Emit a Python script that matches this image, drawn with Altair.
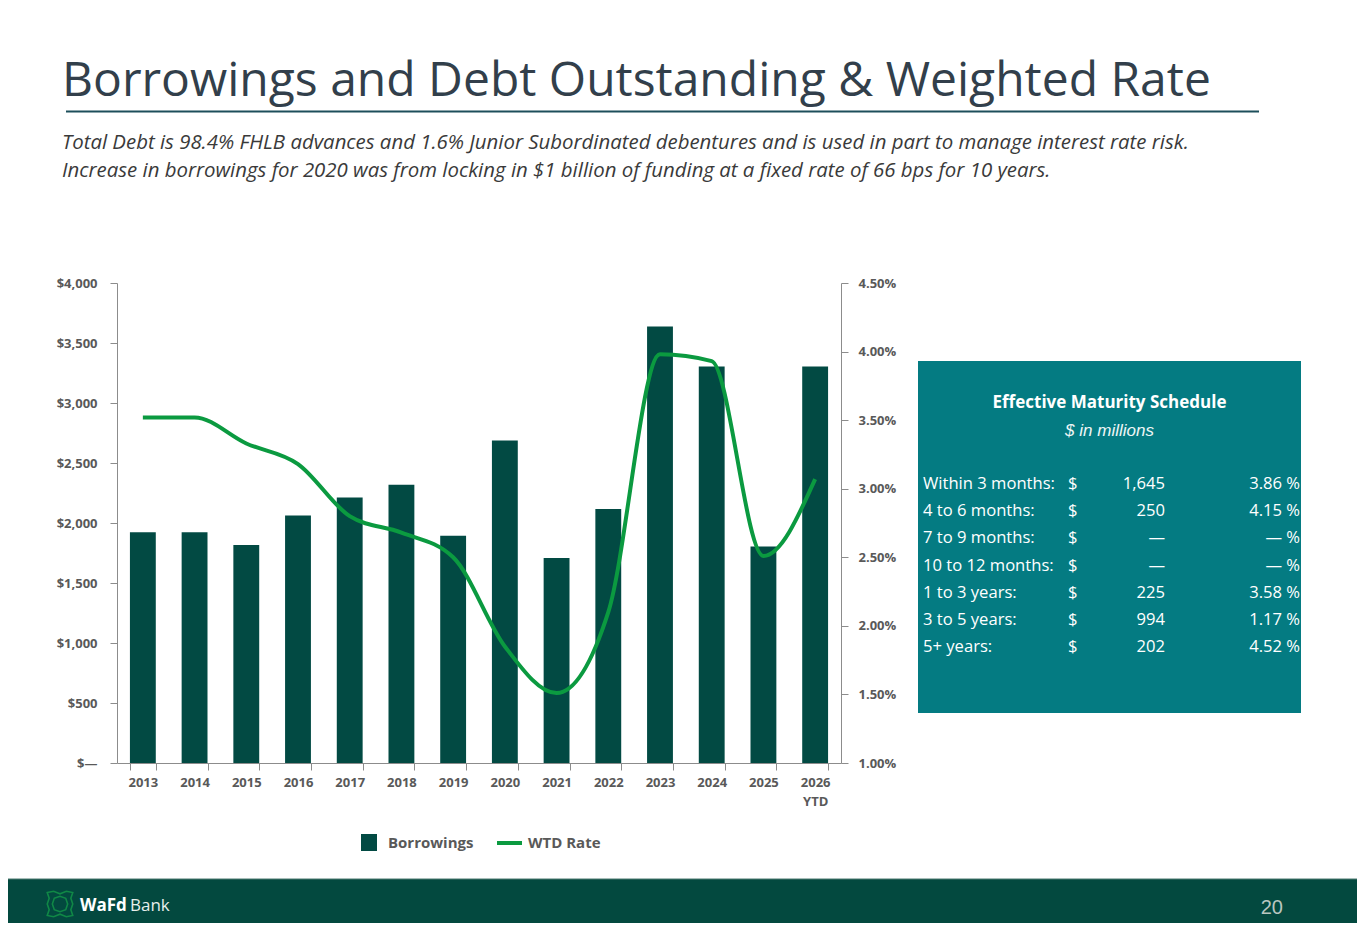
import altair as alt
import pandas as pd

# ---------------- data ----------------
years = ["2013", "2014", "2015", "2016", "2017", "2018", "2019",
         "2020", "2021", "2022", "2023", "2024", "2025", "2026 YTD"]
borrowings = [1922, 1922, 1817, 2063, 2213, 2319, 1894,
              2688, 1708, 2117, 3638, 3305, 1805, 3305]
wtd_rate = [3.52, 3.52, 3.33, 3.18, 2.80, 2.68, 2.50,
            1.85, 1.51, 2.10, 3.98, 3.93, 2.51, 3.07]

left_ticks = [0, 500, 1000, 1500, 2000, 2500, 3000, 3500, 4000]
right_ticks = [1.0, 1.5, 2.0, 2.5, 3.0, 3.5, 4.0, 4.5]

maturity_labels = ["Within 3 months:", "4 to 6 months:", "7 to 9 months:",
                   "10 to 12 months:", "1 to 3 years:", "3 to 5 years:", "5+ years:"]
maturity_amounts = ["1,645", "250", "\u2014", "\u2014", "225", "994", "202"]
maturity_rates = ["3.86 %", "4.15 %", "\u2014 %", "\u2014 %", "3.58 %", "1.17 %", "4.52 %"]

title_text = "Borrowings and Debt Outstanding & Weighted Rate"
subtitle_lines = [
    "Total Debt is 98.4% FHLB advances and 1.6% Junior Subordinated debentures and is used in part to manage interest rate risk.",
    "Increase in borrowings for 2020 was from locking in $1 billion of funding at a fixed rate of 66 bps for 10 years.",
]
legend_items = ["Borrowings", "WTD Rate"]

df = pd.DataFrame({"year": years, "borrowings": borrowings, "rate": wtd_rate})

# ---------------- layout helpers (page px -> plot px) ----------------
OX, OY = 117, 283
W, H = 724, 480
TOTAL_W, TOTAL_H = 1349, 915


def X(p):
    return p - OX


def Y(p):
    return p - OY


def one():
    return pd.DataFrame({"k": [0]})


def txt(s, x, y, size, color, weight="normal", style="normal",
        font="Open Sans", align="left"):
    return alt.Chart(pd.DataFrame({"t": [s]})).mark_text(
        font=font, fontSize=size, fontWeight=weight, fontStyle=style,
        color=color, align=align, baseline="alphabetic"
    ).encode(text="t:N", x=alt.value(X(x)), y=alt.value(Y(y)))


def rect(x1, y1, x2, y2, color):
    return alt.Chart(one()).mark_rect(color=color).encode(
        x=alt.value(X(x1)), x2=alt.value(X(x2)),
        y=alt.value(Y(y1)), y2=alt.value(Y(y2)))


def hrule(x1, x2, y, color, width):
    return alt.Chart(one()).mark_rule(color=color, strokeWidth=width).encode(
        x=alt.value(X(x1)), x2=alt.value(X(x2)), y=alt.value(Y(y)))


AXIS_GRAY = "#8c8c8c"
LABEL_GRAY = "#595959"
BAR_COLOR = "#024a43"
LINE_COLOR = "#0b9a40"

axis_common = dict(
    title=None, grid=False, domainColor=AXIS_GRAY, tickColor=AXIS_GRAY,
    labelFont="Open Sans", labelFontSize=13, labelFontWeight="bold",
    labelColor=LABEL_GRAY, tickSize=7,
)

xenc = alt.X(
    "year:N", sort=years,
    scale=alt.Scale(paddingInner=0.5, paddingOuter=0.25),
    axis=alt.Axis(labelAngle=0, tickBand="extent", labelPadding=6,
                  labelLineHeight=19,
                  labelExpr="datum.value == '2026 YTD' ? ['2026', 'YTD'] : datum.value",
                  **axis_common),
)

bars = alt.Chart(df).mark_bar(color=BAR_COLOR).encode(
    x=xenc,
    y=alt.Y("borrowings:Q",
            scale=alt.Scale(domain=[0, 4000], nice=False),
            axis=alt.Axis(orient="left", values=left_ticks, labelPadding=13,
                          labelExpr="datum.value == 0 ? '$\u2014' : '$' + format(datum.value, ',')",
                          **axis_common)),
)

line = alt.Chart(df).mark_line(color=LINE_COLOR, strokeWidth=4,
                               interpolate="monotone").encode(
    x=xenc,
    y=alt.Y("rate:Q",
            scale=alt.Scale(domain=[1, 4.5], nice=False, zero=False),
            axis=alt.Axis(orient="right", values=right_ticks, labelPadding=10,
                          labelExpr="format(datum.value, '.2f') + '%'",
                          **axis_common)),
)

main = alt.layer(bars, line).resolve_scale(y="independent")

layers = []
# footer
layers.append(rect(8, 879, 1357, 8 + TOTAL_H, "#03493f"))
layers.append(hrule(8, 1357, 879, "#4d7b70", 1))
# maturity box
layers.append(rect(918, 361, 1301, 713, "#047b82"))
# title & underline
layers.append(txt(title_text, 62, 96, 48, "#323f4b"))
layers.append(hrule(66, 1259, 111.5, "#1d4f5b", 2))
# subtitle
layers.append(txt(subtitle_lines[0], 62, 149, 20.4, "#3a3a3a", style="italic"))
layers.append(txt(subtitle_lines[1], 62, 177, 20.4, "#3a3a3a", style="italic"))

# maturity schedule
layers.append(txt("Effective Maturity Schedule", 1109.5, 408, 17, "white",
                  weight="bold", align="center"))
layers.append(txt("$ in millions", 1109.5, 436, 17, "#eef6f6", style="italic",
                  font="Liberation Sans", align="center"))
for i in range(len(maturity_labels)):
    yb = 489 + i * 27.2
    layers.append(txt(maturity_labels[i], 923, yb, 16.6, "white"))
    layers.append(txt("$", 1068, yb, 16.6, "white"))
    layers.append(txt(maturity_amounts[i], 1165, yb, 16.6, "white", align="right"))
    layers.append(txt(maturity_rates[i], 1300, yb, 16.6, "white", align="right"))

# legend
layers.append(rect(361, 834, 377, 851, BAR_COLOR))
layers.append(txt(legend_items[0], 388, 848, 15, LABEL_GRAY, weight="bold"))
layers.append(alt.Chart(one()).mark_rule(color=LINE_COLOR, strokeWidth=4).encode(
    x=alt.value(X(497)), x2=alt.value(X(522)), y=alt.value(Y(843))))
layers.append(txt(legend_items[1], 528, 848, 15, LABEL_GRAY, weight="bold"))

# footer logo and page number
icon_path = ("M-1,-0.9 L-0.5,-1 L0,-0.8 L0.5,-1 L1,-0.9 L0.85,-0.45 L1,0 L0.85,0.45 "
             "L1,0.9 L0.5,1 L0,0.8 L-0.5,1 L-1,0.9 L-0.85,0.45 L-1,0 L-0.85,-0.45 Z "
             "M-0.45,-0.45 L0,-0.6 L0.45,-0.45 L0.6,0 L0.45,0.45 L0,0.6 L-0.45,0.45 L-0.6,0 Z")
layers.append(alt.Chart(one()).mark_point(shape=icon_path, size=650, filled=False,
                                          stroke="#16a34a", strokeWidth=1.6).encode(
    x=alt.value(X(60)), y=alt.value(Y(904))))
layers.append(txt("WaFd", 80, 911, 17, "white", weight="bold"))
layers.append(txt("Bank", 130, 911, 17, "#e8efec"))
layers.append(txt("20", 1283, 914, 20, "#b9c6c0", font="Liberation Sans", align="right"))

chart = alt.layer(*layers[:3], main, *layers[3:]).properties(
    width=W, height=H,
    autosize=alt.AutoSizeParams(type="none"),
    padding={"left": OX - 8, "top": OY - 8,
             "right": TOTAL_W - (OX - 8) - W, "bottom": TOTAL_H - (OY - 8) - H},
    background="white",
).configure_view(strokeOpacity=0)

chart.save("out.html", embed_options={"renderer": "svg", "actions": False})
